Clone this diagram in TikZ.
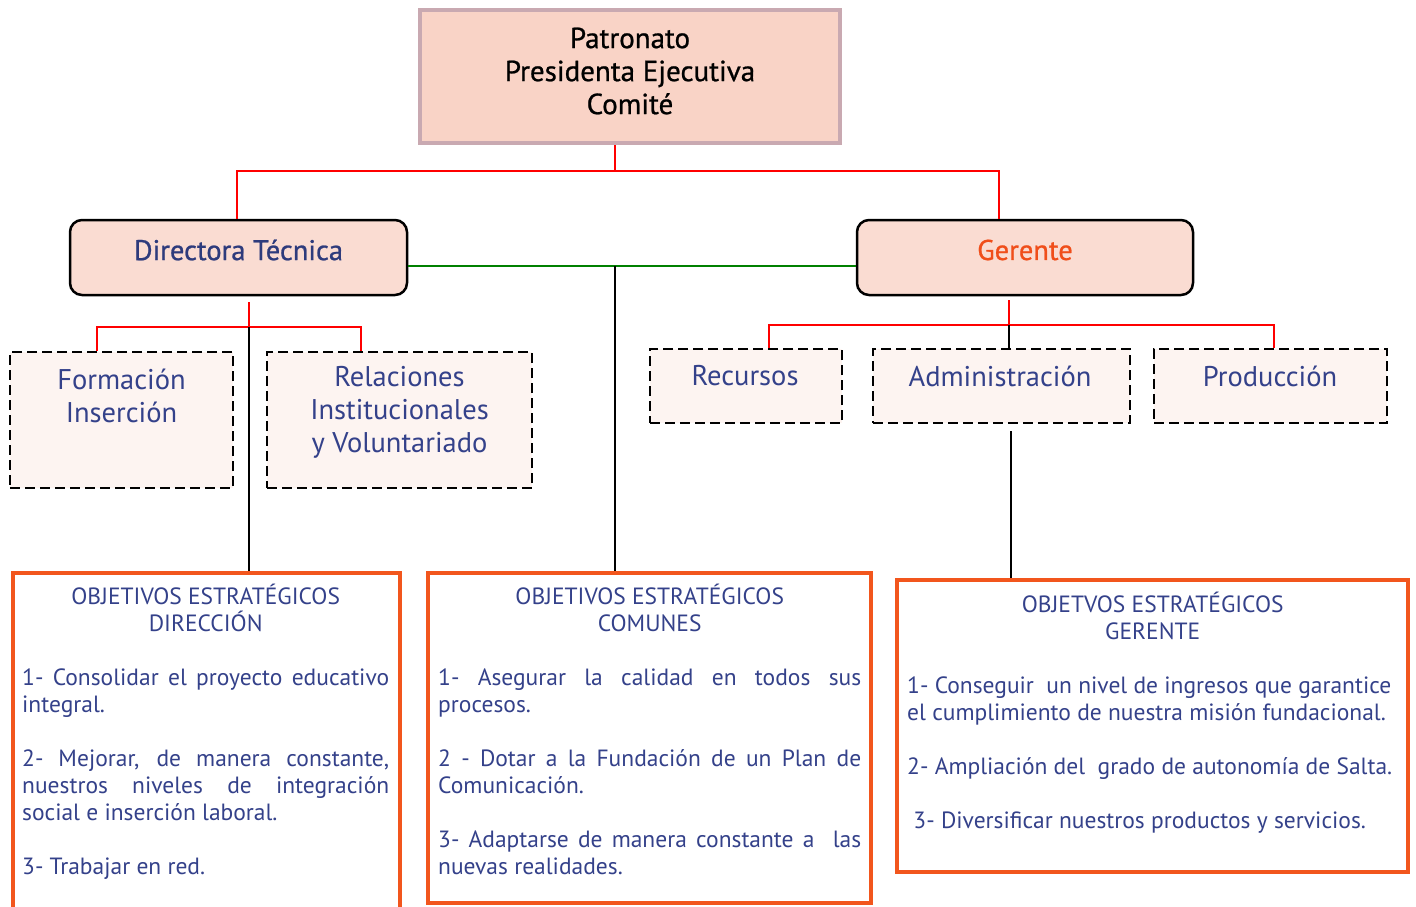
\documentclass[tikz,border=0pt]{standalone}
\usepackage{fontspec}
\setmainfont{PT Sans}
\newfontfamily\medfont[FakeBold=0.8]{PT Sans}
\definecolor{topfill}{HTML}{F9D3C6}
\definecolor{topborder}{HTML}{C9A9B1}
\definecolor{midfill}{HTML}{FADCD2}
\definecolor{dashfill}{HTML}{FDF4F1}
\definecolor{navy}{HTML}{2E3B7C}
\definecolor{txtblue}{HTML}{34418A}
\definecolor{orangeline}{HTML}{F2561D}
\definecolor{gerentetxt}{HTML}{F04E1A}
\definecolor{redline}{HTML}{FF0000}
\definecolor{greenline}{HTML}{008000}
\newlength\objw
\newcommand\justline[1]{\makebox[\objw][s]{#1}}
\newcommand\ctrline[1]{\makebox[\objw][c]{#1}}
\newcommand\lftline[1]{\makebox[\objw][l]{#1}}
\begin{document}
\begin{tikzpicture}[x=1pt,y=-1pt,
  topbox/.style={draw=topborder,line width=4pt,fill=topfill,inner sep=0pt},
  midbox/.style={draw=black,line width=2.5pt,fill=midfill,rounded corners=12pt,inner sep=0pt},
  dashbox/.style={draw=black,line width=2.5pt,dash pattern=on 10pt off 5pt,fill=dashfill,inner sep=0pt},
  objbox/.style={draw=orangeline,line width=3.5pt,fill=white,inner sep=0pt},
  bigtxt/.style={font=\fontsize{28.5}{33}\selectfont,align=center,inner sep=0pt},
  headtxt/.style={font=\medfont\fontsize{28.5}{33}\selectfont,align=center,inner sep=0pt},
  objtxt/.style={font=\fontsize{23.5}{27}\selectfont,text=txtblue,align=left,inner sep=0pt,anchor=north west},
  rl/.style={draw=redline,line width=1.6pt},
  gl/.style={draw=greenline,line width=1.6pt},
  bl/.style={draw=black,line width=1.6pt}]
\useasboundingbox (0,0) rectangle (1416,906);
\clip (0,0) rectangle (1416,906);

% boxes
\node[topbox,minimum width=420pt,minimum height=133pt] (top) at (630,76.5) {};
\node[headtxt,text=black,font=\medfont\fontsize{29}{33}\selectfont] (toptxt) at (630,71) {Patronato\\Presidenta Ejecutiva\\Comité};

\node[midbox,minimum width=337pt,minimum height=75pt] (dir) at (238.5,257.5) {};
\node[headtxt,text=navy] (dirtxt) at (238.5,250) {Directora Técnica};
\node[midbox,minimum width=336pt,minimum height=75pt] (ger) at (1025,257.5) {};
\node[headtxt,text=gerentetxt] (gertxt) at (1025,250) {Gerente};

\node[dashbox,minimum width=223pt,minimum height=136pt] (form) at (121.5,420) {};
\node[bigtxt,text=txtblue] (formtxt) at (121.5,395.5) {Formación\\Inserción};
\node[dashbox,minimum width=265pt,minimum height=136pt] (rel) at (399.5,420) {};
\node[bigtxt,text=txtblue] (reltxt) at (399.5,412.5) {Relaciones\\Institucionales\\y Voluntariado};

\node[dashbox,minimum width=192pt,minimum height=74pt] (rec) at (746,386) {};
\node[bigtxt,text=txtblue] (rectxt) at (745,376) {Recursos};
\node[dashbox,minimum width=257pt,minimum height=74pt] (adm) at (1001.5,386) {};
\node[bigtxt,text=txtblue] (admtxt) at (1000,376) {Administración};
\node[dashbox,minimum width=233pt,minimum height=74pt] (prod) at (1270.5,386) {};
\node[bigtxt,text=txtblue] (prodtxt) at (1270,376) {Producción};

\node[objbox,minimum width=387pt,minimum height=350pt] (odir) at (206.5,748) {};
\node[objbox,minimum width=443pt,minimum height=330pt] (ocom) at (649.5,738) {};
\node[objbox,minimum width=511pt,minimum height=292pt] (oger) at (1152.5,726) {};

\node[objtxt] (odirtxt) at (22,583.5) {\global\objw=367pt
\ctrline{OBJETIVOS ESTRATÉGICOS}\\
\ctrline{DIRECCIÓN}\\[27pt]
\justline{1- Consolidar el proyecto educativo}\\
\lftline{integral.}\\[27pt]
\justline{2- Mejorar, de manera constante,}\\
\justline{nuestros niveles de integración}\\
\lftline{social e inserción laboral.}\\[27pt]
\lftline{3- Trabajar en red.}};

\node[objtxt] (ocomtxt) at (438,583.5) {\global\objw=423pt
\ctrline{OBJETIVOS ESTRATÉGICOS}\\
\ctrline{COMUNES}\\[27pt]
\justline{1- Asegurar la calidad en todos sus}\\
\lftline{procesos.}\\[27pt]
\justline{2 - Dotar a la Fundación de un Plan de}\\
\lftline{Comunicación.}\\[27pt]
\justline{3- Adaptarse de manera constante a \ las}\\
\lftline{nuevas realidades.}};

\node[objtxt] (ogertxt) at (907,591.5) {\global\objw=491pt
\ctrline{OBJETVOS ESTRATÉGICOS}\\
\ctrline{GERENTE}\\[27pt]
\lftline{1- Conseguir \ un nivel de ingresos que garantice}\\
\lftline{el cumplimiento de nuestra misión fundacional.}\\[27pt]
\lftline{2- Ampliación del \ grado de autonomía de Salta.}\\[27pt]
\lftline{\ 3- Diversificar nuestros productos y servicios.}};

% connectors
\coordinate (tbus) at (615,171);
\draw[rl] (top.south -| tbus) -- (tbus);
\draw[rl] (tbus) -| (dir.north -| 237,0);
\draw[rl] (tbus) -| (ger.north -| 999,0);

\coordinate (gmid) at (615,266);
\draw[gl] (dir.east |- gmid) -- (ger.west |- gmid);
\draw[bl] (gmid) -- (ocom.north -| gmid);

\coordinate (dbus) at (249,327);
\draw[rl] (249,302) -- (dbus);
\draw[rl] (dbus) -| (form.north -| 97,0);
\draw[rl] (dbus) -| (rel.north -| 361,0);
\draw[bl] (dbus) -- (odir.north -| dbus);

\coordinate (gbus) at (1009,325);
\draw[rl] (1009,300) -- (gbus);
\draw[rl] (gbus) -| (rec.north -| 769,0);
\draw[rl] (gbus) -| (prod.north -| 1274,0);
\draw[bl] (gbus) -- (adm.north -| gbus);
\draw[bl] (adm.south -| 1011,0) ++(0,7) -- (oger.north -| 1011,0);
\end{tikzpicture}
\end{document}
